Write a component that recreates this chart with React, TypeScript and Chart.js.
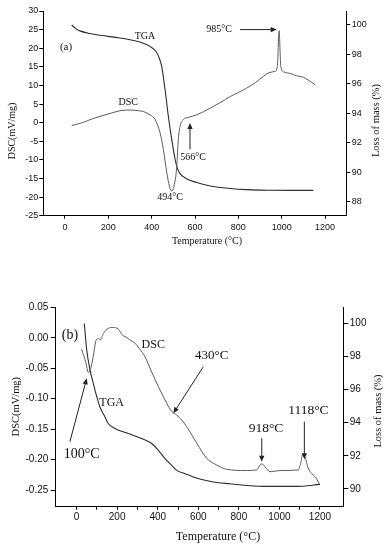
import React, { useEffect, useRef } from 'react';
import { Chart, registerables } from 'chart.js';

Chart.register(...registerables);

// ---------- Data (a) ----------
const DSC_A_T = [31, 80, 120, 162, 210, 254, 300, 340, 361, 392, 416, 439, 454, 470, 482, 493, 503, 516, 523, 531, 546, 569, 608, 670, 720, 762, 800, 839, 880, 915, 946, 969, 980, 988, 996, 1008, 1040, 1069, 1100, 1116, 1154];
const DSC_A_V = [-0.8, 0.0, 0.9, 1.7, 2.5, 3.2, 3.4, 3.2, 3.0, 2.1, 0.8, -2.8, -7.2, -13.5, -17.1, -18.4, -17.1, -11.7, -4.6, -1.0, 0.8, 1.4, 2.1, 3.9, 5.5, 7.0, 8.1, 9.3, 10.8, 12.4, 13.5, 13.8, 15.1, 24.7, 15.1, 13.7, 13.2, 12.6, 12.2, 11.7, 10.2];
const TGA_A_T = [31, 50, 69, 115, 162, 254, 300, 346, 392, 420, 431, 446, 462, 477, 493, 508, 523, 546, 608, 670, 762, 839, 950, 1050, 1146];
const TGA_A_V = [100.0, 99.75, 99.6, 99.42, 99.3, 99.12, 99.0, 98.85, 98.55, 98.2, 97.9, 97.2, 95.6, 93.8, 92.2, 90.9, 90.1, 89.7, 89.3, 89.07, 88.9, 88.82, 88.78, 88.77, 88.77];

// ---------- Data (b) ----------
const DSC_B_T = [25, 45, 58, 70, 82, 94, 107, 115, 132, 156, 181, 206, 230, 240, 260, 288, 310, 337, 370, 403, 436, 469, 494, 518, 543, 592, 642, 691, 740, 839, 888, 905, 913, 929, 954, 1003, 1093, 1105, 1115, 1126, 1142, 1159, 1176, 1197];
const DSC_B_V = [-0.019, -0.040, -0.057, -0.050, -0.031, -0.0065, -0.001, -0.004, 0.007, 0.0155, 0.017, 0.014, 0.003, 0.002, -0.003, -0.009, -0.018, -0.031, -0.056, -0.080, -0.102, -0.121, -0.127, -0.135, -0.146, -0.173, -0.198, -0.209, -0.216, -0.218, -0.217, -0.209, -0.207, -0.212, -0.220, -0.218, -0.217, -0.206, -0.191, -0.196, -0.214, -0.223, -0.228, -0.240];
const TGA_B_T = [38, 50, 66, 82, 99, 115, 140, 156, 189, 255, 321, 370, 403, 436, 469, 494, 535, 575, 674, 756, 921, 1085, 1200];
const TGA_B_V = [100.0, 98.4, 97.2, 96.4, 95.6, 94.95, 94.35, 93.95, 93.65, 93.35, 93.04, 92.74, 92.33, 91.83, 91.42, 91.12, 90.92, 90.72, 90.41, 90.31, 90.15, 90.15, 90.27];

// ---------- Ticks ----------
const XTICKS_A = [0, 200, 400, 600, 800, 1000, 1200];
const YTICKS_A_LEFT = [-25, -20, -15, -10, -5, 0, 5, 10, 15, 20, 25, 30];
const YTICKS_A_RIGHT = [88, 90, 92, 94, 96, 98, 100];
const XTICKS_B = [0, 100, 200, 300, 400, 500, 600, 700, 800, 900, 1000, 1100, 1200];
const YTICKS_B_LEFT = [-0.25, -0.2, -0.15, -0.1, -0.05, 0, 0.05];
const YTICKS_B_RIGHT = [90, 92, 94, 96, 98, 100];

// ---------- Annotations (data coordinates, left axis) ----------
const LABELS_A = [
  { text: 'TGA', t: 369, v: 23.3, size: 10 },
  { text: 'DSC', t: 292, v: 5.4, size: 10 },
  { text: '(a)', t: 5, v: 20.4, size: 11 },
  { text: '985°C', t: 711, v: 25.0, size: 10 },
  { text: '494°C', t: 485, v: -20.1, size: 10 },
  { text: '566°C', t: 591, v: -9.4, size: 10 },
];
const ARROWS_A = [
  { t1: 808, v1: 25.0, t2: 977, v2: 25.0 },
  { t1: 577, v1: -7.2, t2: 577, v2: -0.1 },
];
const LABELS_B = [
  { text: '(b)', t: -33, v: 0.0045, size: 14 },
  { text: 'DSC', t: 378, v: -0.012, size: 12 },
  { text: 'TGA', t: 173, v: -0.1076, size: 12 },
  { text: '100°C', t: 25, v: -0.191, size: 14 },
  { text: '430°C', t: 666, v: -0.030, size: 13 },
  { text: '918°C', t: 934, v: -0.1487, size: 13.5 },
  { text: '1118°C', t: 1143, v: -0.120, size: 13.5 },
];
const ARROWS_B = [
  { t1: -33, v1: -0.1707, t2: 50, v2: -0.0666 },
  { t1: 625, v1: -0.0475, t2: 477, v2: -0.124 },
  { t1: 913, v1: -0.165, t2: 913, v2: -0.2035 },
  { t1: 1123, v1: -0.1378, t2: 1123, v2: -0.1996 },
];

const SERIF = '"Liberation Serif", "Times New Roman", serif';
const SANS = '"Liberation Sans", Arial, sans-serif';
const TGA_COLOR = '#2b2b2b';
const DSC_COLOR = '#5c5c5c';

const pts = (t: number[], v: number[]) => t.map((x, i) => ({ x, y: v[i] }));

const fixW = (w: number) => (s: any) => {
  s.width = w;
  s.paddingTop = 0; s.paddingBottom = 0; s.paddingLeft = 0; s.paddingRight = 0;
};
const fixH = (h: number) => (s: any) => {
  s.height = h;
  s.paddingTop = 0; s.paddingBottom = 0; s.paddingLeft = 0; s.paddingRight = 0;
};
const setTicks = (arr: number[]) => (s: any) => { s.ticks = arr.map((value) => ({ value })); };

function drawArrow(ctx: CanvasRenderingContext2D, x1: number, y1: number, x2: number, y2: number, color: string) {
  const ang = Math.atan2(y2 - y1, x2 - x1);
  const hl = 6, hw = 2.6;
  ctx.strokeStyle = color;
  ctx.fillStyle = color;
  ctx.lineWidth = 1;
  ctx.beginPath();
  ctx.moveTo(x1, y1);
  ctx.lineTo(x2 - Math.cos(ang) * hl * 0.8, y2 - Math.sin(ang) * hl * 0.8);
  ctx.stroke();
  ctx.beginPath();
  ctx.moveTo(x2, y2);
  ctx.lineTo(x2 - Math.cos(ang) * hl - Math.sin(ang) * hw, y2 - Math.sin(ang) * hl + Math.cos(ang) * hw);
  ctx.lineTo(x2 - Math.cos(ang) * hl + Math.sin(ang) * hw, y2 - Math.sin(ang) * hl - Math.cos(ang) * hw);
  ctx.closePath();
  ctx.fill();
}

type Title = { text: string; x: number; y: number; size: number; rot: number };

function makePlugin(labels: any[], arrows: any[], titles: Title[]) {
  return {
    id: 'annotations',
    afterDraw(chart: any) {
      const ctx: CanvasRenderingContext2D = chart.ctx;
      const xs = chart.scales.x;
      const ys = chart.scales.y;
      ctx.save();
      arrows.forEach((a) => {
        drawArrow(ctx, xs.getPixelForValue(a.t1), ys.getPixelForValue(a.v1), xs.getPixelForValue(a.t2), ys.getPixelForValue(a.v2), '#222');
      });
      ctx.fillStyle = '#111';
      ctx.textAlign = 'center';
      ctx.textBaseline = 'middle';
      labels.forEach((l) => {
        ctx.font = `${l.size}px ${SERIF}`;
        ctx.fillText(l.text, xs.getPixelForValue(l.t), ys.getPixelForValue(l.v));
      });
      titles.forEach((t) => {
        ctx.save();
        ctx.translate(t.x, t.y);
        ctx.rotate(t.rot);
        ctx.font = `${t.size}px ${SERIF}`;
        ctx.fillText(t.text, 0, 0);
        ctx.restore();
      });
      ctx.restore();
    },
  };
}

function axisCommon(fontSize: number, tickLen: number, pad: number) {
  return {
    grid: { drawOnChartArea: false, drawTicks: true, tickLength: tickLen, color: '#000', lineWidth: 1 },
    border: { display: true, color: '#000', width: 1 },
    ticks: { color: '#111', font: { family: SANS, size: fontSize }, padding: pad, autoSkip: false, maxRotation: 0 },
  };
}

const plain = (v: number) => String(v);

function configA(): any {
  const xc = axisCommon(9, 3, 3);
  const yl = axisCommon(9, 4, 1);
  const yr = axisCommon(9, 3.5, 1.5);
  return {
    type: 'line',
    data: {
      datasets: [
        { data: pts(DSC_A_T, DSC_A_V), yAxisID: 'y', borderColor: DSC_COLOR, borderWidth: 1, pointRadius: 0, cubicInterpolationMode: 'monotone', fill: false },
        { data: pts(TGA_A_T, TGA_A_V), yAxisID: 'y1', borderColor: TGA_COLOR, borderWidth: 1.1, pointRadius: 0, cubicInterpolationMode: 'monotone', fill: false },
      ],
    },
    options: {
      animation: false, responsive: false, devicePixelRatio: 1,
      layout: { padding: { top: 11, left: 0, right: 0, bottom: 0 } },
      plugins: { legend: { display: false }, tooltip: { enabled: false } },
      scales: {
        x: { type: 'linear', min: -100, max: 1300, ...xc, ticks: { ...xc.ticks, callback: plain }, afterBuildTicks: setTicks(XTICKS_A), afterFit: fixH(44.3) },
        y: { type: 'linear', position: 'left', min: -25, max: 30, ...yl, ticks: { ...yl.ticks, callback: plain }, afterBuildTicks: setTicks(YTICKS_A_LEFT), afterFit: fixW(43.3) },
        y1: { type: 'linear', position: 'right', min: 87.05, max: 100.95, ...yr, ticks: { ...yr.ticks, callback: plain }, afterBuildTicks: setTicks(YTICKS_A_RIGHT), afterFit: fixW(42.3) },
      },
    },
    plugins: [makePlugin(LABELS_A, ARROWS_A, [
      { text: 'Temperature (°C)', x: 207, y: 241.7, size: 10, rot: 0 },
      { text: 'DSC(mV/mg)', x: 12.5, y: 131, size: 10, rot: -Math.PI / 2 },
      { text: 'Loss of mass (%)', x: 376.5, y: 120.5, size: 10.5, rot: -Math.PI / 2 },
    ])],
  };
}

function configB(): any {
  const xc = axisCommon(10, 3, 1.5);
  const yl = axisCommon(10, 5, 2.4);
  const yr = axisCommon(10, 5, 1.5);
  return {
    type: 'line',
    data: {
      datasets: [
        { data: pts(DSC_B_T, DSC_B_V), yAxisID: 'y', borderColor: DSC_COLOR, borderWidth: 1, pointRadius: 0, cubicInterpolationMode: 'monotone', fill: false },
        { data: pts(TGA_B_T, TGA_B_V), yAxisID: 'y1', borderColor: TGA_COLOR, borderWidth: 1.1, pointRadius: 0, cubicInterpolationMode: 'monotone', fill: false },
      ],
    },
    options: {
      animation: false, responsive: false, devicePixelRatio: 1,
      layout: { padding: { top: 27, left: 0, right: 0, bottom: 0 } },
      plugins: { legend: { display: false }, tooltip: { enabled: false } },
      scales: {
        x: {
          type: 'linear', min: -103, max: 1315, ...xc,
          ticks: { ...xc.ticks, callback: (v: number) => (v % 200 === 0 ? String(v) : '') },
          afterBuildTicks: setTicks(XTICKS_B), afterFit: fixH(43.3),
        },
        y: {
          type: 'linear', position: 'left', min: -0.2774, max: 0.0505, ...yl,
          ticks: { ...yl.ticks, callback: (v: number) => v.toFixed(2) },
          afterBuildTicks: setTicks(YTICKS_B_LEFT), afterFit: fixW(55.7),
        },
        y1: { type: 'linear', position: 'right', min: 88.92, max: 101, ...yr, ticks: { ...yr.ticks, callback: plain }, afterBuildTicks: setTicks(YTICKS_B_RIGHT), afterFit: fixW(45.7) },
      },
    },
    plugins: [makePlugin(LABELS_B, ARROWS_B, [
      { text: 'Temperature (°C)', x: 218, y: 257, size: 12, rot: 0 },
      { text: 'DSC(mV/mg)', x: 16, y: 126.7, size: 10.5, rot: -Math.PI / 2 },
      { text: 'Loss of mass (%)', x: 378, y: 131, size: 10.5, rot: -Math.PI / 2 },
    ])],
  };
}

function ChartCanvas({ make, top, height }: { make: () => any; top: number; height: number }) {
  const ref = useRef<HTMLCanvasElement | null>(null);
  useEffect(() => {
    if (!ref.current) return;
    const ch = new Chart(ref.current, make());
    return () => ch.destroy();
  }, []);
  return (
    <canvas
      ref={ref}
      width={389}
      height={height}
      style={{ position: 'absolute', left: 0, top, width: 389, height, display: 'block' }}
    />
  );
}

export default function App() {
  return (
    <div style={{ position: 'absolute', left: 0, top: 0, width: 389, height: 550, background: '#fff', overflow: 'hidden' }}>
      <ChartCanvas make={configA} top={0} height={260} />
      <ChartCanvas make={configB} top={280} height={270} />
    </div>
  );
}
